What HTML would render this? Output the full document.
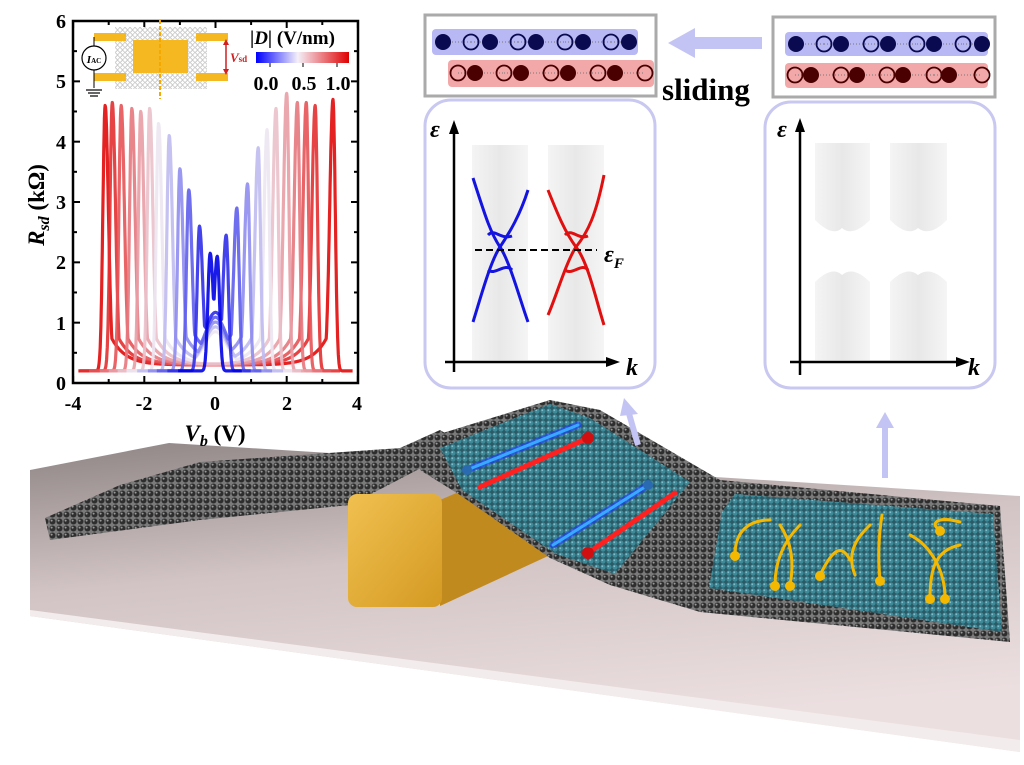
<!DOCTYPE html>
<html><head><meta charset="utf-8">
<style>
html,body{margin:0;padding:0;background:#fff;}
svg{display:block;}
.t{font-family:"Liberation Serif",serif;font-weight:bold;}
</style></head>
<body>
<svg id="s" width="1024" height="765" viewBox="0 0 1024 765" xmlns="http://www.w3.org/2000/svg">
<defs>
<linearGradient id="plane" x1="0" y1="0" x2="0.3" y2="1">
<stop offset="0" stop-color="#8f8585"/><stop offset="0.45" stop-color="#d2c4c4"/><stop offset="1" stop-color="#ecdfe0"/>
</linearGradient>
<linearGradient id="cb" x1="0" x2="1">
<stop offset="0" stop-color="#0000ff"/><stop offset="0.45" stop-color="#f4f0f8"/><stop offset="1" stop-color="#e00000"/>
</linearGradient>
<linearGradient id="gold" x1="0" y1="0" x2="1" y2="1">
<stop offset="0" stop-color="#f0c050"/><stop offset="1" stop-color="#d49a22"/>
</linearGradient>
<linearGradient id="band" x1="0" y1="0" x2="1" y2="0">
<stop offset="0" stop-color="#f4f4f4"/><stop offset="0.5" stop-color="#e8e8e8"/><stop offset="1" stop-color="#f5f5f5"/>
</linearGradient>
<pattern id="dk" width="7" height="7" patternUnits="userSpaceOnUse">
<rect width="7" height="7" fill="#7a7a7a"/><circle cx="3.5" cy="3.5" r="3" fill="#2e2e2e"/><circle cx="2.6" cy="2.6" r="1" fill="#9a9a9a"/>
</pattern>
<pattern id="tl" width="6" height="6" patternUnits="userSpaceOnUse">
<rect width="6" height="6" fill="#2b5a66"/><circle cx="3" cy="3" r="2.6" fill="#3f8a98"/><circle cx="2.3" cy="2.3" r="0.9" fill="#7fc0cc"/>
</pattern>
<pattern id="hex" width="5" height="5" patternUnits="userSpaceOnUse">
<rect width="5" height="5" fill="#fff"/><circle cx="2.5" cy="2.5" r="1.8" fill="none" stroke="#aaa" stroke-width="0.6"/>
</pattern>
</defs>

<!-- plane -->
<polygon points="30,470 169,443 1020,496 1020,752 30,616" fill="url(#plane)"/>
<polygon points="30,610 1020,740 1020,752 30,616" fill="#f3ecec"/>

<!-- left dark sheet -->
<polygon points="45,518 120,485 200,462 400,448 440,430 465,445 350,505 200,520 50,540" fill="url(#dk)"/>
<!-- gold block -->
<polygon points="440,500 622,422 626,520 440,606" fill="#c08a1e"/>
<rect x="348" y="494" width="94" height="113" rx="9" fill="url(#gold)"/>
<!-- dark sheet over block and right -->
<polygon points="420,440 550,400 600,410 720,480 1000,506 1010,642 700,612 610,585 550,558 460,495 420,470" fill="url(#dk)"/>
<polygon points="440,448 550,404 590,418 690,482 615,574 556,554 462,490" fill="url(#tl)"/>
<polygon points="722,512 735,494 993,514 1002,632 709,588" fill="url(#tl)"/>
<g stroke-linecap="round">
<line x1="467" y1="470" x2="578" y2="425" stroke="#1e3cff" stroke-width="7" opacity="0.6"/>
<line x1="467" y1="470" x2="578" y2="425" stroke="#39a8ff" stroke-width="3"/>
<line x1="480" y1="487" x2="588" y2="438" stroke="#ff2020" stroke-width="5"/>
<line x1="553" y1="545" x2="648" y2="485" stroke="#1e3cff" stroke-width="7" opacity="0.6"/>
<line x1="553" y1="545" x2="648" y2="485" stroke="#39a8ff" stroke-width="3"/>
<line x1="588" y1="553" x2="675" y2="493" stroke="#ff2020" stroke-width="5"/>
</g>
<circle cx="467" cy="470" r="5" fill="#2a6ab0"/><circle cx="588" cy="438" r="6" fill="#d01010"/>
<circle cx="648" cy="485" r="5" fill="#2a6ab0"/><circle cx="588" cy="553" r="6" fill="#d01010"/>
<g fill="none" stroke="#f5b800" stroke-width="3" stroke-linecap="round">
<path d="M735,555 C735,530 750,520 770,520"/><path d="M775,585 C775,560 785,540 800,525"/>
<path d="M790,585 C795,560 790,540 780,525"/><path d="M820,575 C830,555 840,540 850,560"/>
<path d="M855,575 C845,550 860,535 870,525"/><path d="M880,580 C878,560 878,540 882,515"/>
<path d="M930,598 C930,570 935,550 960,545"/><path d="M945,598 C945,570 930,545 910,535"/>
<path d="M940,530 C930,525 935,515 960,522"/>
</g>
<g fill="#f5b800"><circle cx="735" cy="556" r="5"/><circle cx="775" cy="586" r="5"/><circle cx="790" cy="586" r="5"/><circle cx="820" cy="576" r="5"/><circle cx="880" cy="581" r="5"/><circle cx="930" cy="599" r="5"/><circle cx="945" cy="599" r="5"/><circle cx="940" cy="531" r="5"/></g>

<g stroke="#c4c4f4" stroke-width="6" fill="#c4c4f4">
<line x1="638" y1="445" x2="628" y2="410"/><polygon points="624,398 638,414 620,416" stroke="none"/>
<line x1="885" y1="478" x2="885" y2="425"/><polygon points="885,412 894,428 876,428" stroke="none"/>
</g>

<!-- top atom boxes -->
<rect x="425" y="15" width="231" height="81" fill="none" stroke="#aaa" stroke-width="3"/>
<rect x="773" y="17" width="222" height="80" fill="none" stroke="#aaa" stroke-width="3"/>
<rect x="432" y="29" width="206" height="26" rx="4" fill="#b8b8f4"/>
<rect x="448" y="60" width="206" height="27" rx="4" fill="#f2a8a8"/>
<rect x="785" y="32" width="203" height="24" rx="4" fill="#b8b8f4"/>
<rect x="785" y="63" width="203" height="25" rx="4" fill="#f2a8a8"/>
<g id="atoms"></g>
<rect x="690" y="37" width="72" height="12" fill="#c4c4f4"/>
<polygon points="668,43 695,28 695,58" fill="#c4c4f4"/>
<text x="662" y="100" class="t" font-size="31">sliding</text>

<!-- band panels -->
<rect x="425" y="100" width="230" height="288" rx="26" fill="#fff" stroke="#c8c8f0" stroke-width="3"/>
<rect x="765" y="102" width="230" height="286" rx="26" fill="#fff" stroke="#c8c8f0" stroke-width="3"/>
<rect x="472" y="145" width="56" height="215" fill="url(#band)"/>
<rect x="548" y="145" width="56" height="215" fill="url(#band)"/>
<path d="M815,143 H870 V220 C860,230 850,235 842,228 C835,235 825,230 815,220 Z" fill="url(#band)"/>
<path d="M890,143 H947 V220 C937,230 927,235 918,228 C910,235 900,230 890,220 Z" fill="url(#band)"/>
<path d="M815,360 H870 V282 C860,272 850,268 842,275 C835,268 825,272 815,282 Z" fill="url(#band)"/>
<path d="M890,360 H947 V282 C937,272 927,268 918,275 C910,268 900,272 890,282 Z" fill="url(#band)"/>
<g fill="none" stroke-width="3">
<path d="M473,178 C485,215 490,232 500,247 C510,262 520,300 528,322" stroke="#1414e0"/>
<path d="M528,190 C520,215 510,232 500,247 C490,262 480,300 473,322" stroke="#1414e0"/>
<path d="M488,235 C495,228 500,240 512,236" stroke="#1414e0"/>
<path d="M488,270 C495,276 505,262 512,270" stroke="#1414e0"/>
<path d="M548,190 C558,215 565,232 576,247 C588,262 596,300 604,325" stroke="#e01010"/>
<path d="M604,175 C596,215 588,232 576,247 C566,262 555,300 548,315" stroke="#e01010"/>
<path d="M565,235 C572,228 578,240 588,236" stroke="#e01010"/>
<path d="M565,270 C572,276 582,262 588,270" stroke="#e01010"/>
</g>
<line x1="475" y1="250" x2="597" y2="250" stroke="#000" stroke-width="2" stroke-dasharray="7,4"/>
<g stroke="#000" stroke-width="2.5" fill="#000">
<line x1="454" y1="372" x2="454" y2="130"/><polygon points="454,120 449,134 459,134" stroke="none"/>
<line x1="445" y1="362" x2="610" y2="362"/><polygon points="620,362 606,357 606,367" stroke="none"/>
<line x1="800" y1="375" x2="800" y2="128"/><polygon points="800,118 795,132 805,132" stroke="none"/>
<line x1="790" y1="362" x2="960" y2="362"/><polygon points="970,362 956,357 956,367" stroke="none"/>
</g>
<g class="t" font-style="italic">
<text x="430" y="137" font-size="24">ε</text><text x="626" y="375" font-size="24">k</text>
<text x="604" y="262" font-size="24">ε<tspan font-size="15" dy="6">F</tspan></text>
<text x="777" y="137" font-size="24">ε</text><text x="968" y="375" font-size="24">k</text>
</g>

<!-- plot -->
<g id="curves"></g>
<rect x="73" y="21" width="285" height="362" fill="none" stroke="#000" stroke-width="2.5"/>
<g id="ticks" stroke="#000" stroke-width="2"></g>
<g class="t" font-size="20" text-anchor="middle">
<text x="73" y="410">-4</text><text x="144" y="410">-2</text><text x="215" y="410">0</text><text x="287" y="410">2</text><text x="357" y="410">4</text>
</g>
<g class="t" font-size="20" text-anchor="end">
<text x="66" y="390">0</text><text x="66" y="330">1</text><text x="66" y="269">2</text><text x="66" y="209">3</text><text x="66" y="149">4</text><text x="66" y="88">5</text><text x="66" y="28">6</text>
</g>
<text class="t" font-size="23" transform="translate(44,205) rotate(-90)" text-anchor="middle"><tspan font-style="italic">R<tspan font-size="16" dy="5">sd</tspan></tspan><tspan dy="-5"> (kΩ)</tspan></text>
<text class="t" font-size="23" x="215" y="441" text-anchor="middle"><tspan font-style="italic">V<tspan font-size="16" dy="5">b</tspan></tspan><tspan dy="-5"> (V)</tspan></text>

<!-- inset -->
<rect x="115" y="27" width="92" height="62" fill="url(#hex)"/>
<rect x="94" y="33" width="32" height="8" fill="#f5b820"/><rect x="94" y="73" width="32" height="8" fill="#f5b820"/>
<rect x="196" y="33" width="32" height="8" fill="#f5b820"/><rect x="196" y="73" width="32" height="8" fill="#f5b820"/>
<rect x="133" y="40" width="55" height="33" fill="#f5b820"/>
<line x1="160" y1="20" x2="160" y2="99" stroke="#f5a800" stroke-width="2" stroke-dasharray="4,2"/>
<line x1="94" y1="37" x2="94" y2="88" stroke="#000" stroke-width="1"/>
<circle cx="94" cy="58" r="12" fill="#fff" stroke="#000" stroke-width="1.2"/>
<text x="94" y="63" class="t" font-size="11" text-anchor="middle" font-style="italic">I<tspan font-size="7" font-style="normal">AC</tspan></text>
<g stroke="#000" stroke-width="1.2"><line x1="86" y1="90" x2="102" y2="90"/><line x1="88" y1="93" x2="100" y2="93"/><line x1="90" y1="96" x2="98" y2="96"/></g>
<line x1="226" y1="41" x2="226" y2="73" stroke="#d02020" stroke-width="1.5"/>
<polygon points="226,39 223,45 229,45" fill="#d02020"/><polygon points="226,75 223,69 229,69" fill="#d02020"/>
<text x="230" y="62" class="t" font-size="13" fill="#d02020" font-style="italic">V<tspan font-size="9" font-style="normal">sd</tspan></text>
<text x="250" y="44" class="t" font-size="19">|<tspan font-style="italic">D</tspan>| (V/nm)</text>
<rect x="256" y="52" width="93" height="11" fill="url(#cb)"/>
<g stroke="#000" stroke-width="1"><line x1="270" y1="63" x2="270" y2="67"/><line x1="303" y1="63" x2="303" y2="67"/><line x1="337" y1="63" x2="337" y2="67"/></g>
<g class="t" font-size="20" text-anchor="middle"><text x="266" y="90">0.0</text><text x="304" y="90">0.5</text><text x="338" y="90">1.0</text></g>
</svg>
<script>
var NS="http://www.w3.org/2000/svg";
function el(n,a,p){var e=document.createElementNS(NS,n);for(var k in a)e.setAttribute(k,a[k]);p.appendChild(e);return e;}
var tk=document.getElementById("ticks");
for(var i=0;i<=6;i++){var y=383-i*60.33;el("line",{x1:73,y1:y,x2:80,y2:y},tk);el("line",{x1:358,y1:y,x2:351,y2:y},tk);
 if(i<6){var y2=y-30.2;el("line",{x1:73,y1:y2,x2:77,y2:y2},tk);el("line",{x1:358,y1:y2,x2:354,y2:y2},tk);}}
for(var v=-4;v<=4;v++){var x=215.5+v*35.6;var L=(v%2==0)?7:4;el("line",{x1:x,y1:383,x2:x,y2:383-L},tk);el("line",{x1:x,y1:21,x2:x,y2:21+L},tk);}
var Ls=[-0.15,-0.45,-0.75,-1.0,-1.3,-1.6,-1.85,-2.1,-2.35,-2.65,-2.9,-3.1];
var Lh=[2.15,2.6,3.2,3.55,4.1,4.3,4.55,4.5,4.55,4.6,4.65,4.6];
var Rs=[0.05,0.3,0.6,0.9,1.2,1.45,1.7,2.0,2.3,2.55,2.8,3.3];
var Rh=[2.1,2.45,2.9,3.3,3.9,4.2,4.55,4.8,4.65,4.65,4.6,4.7];
function col(t){var c1=[0,0,230],c2=[236,232,244],c3=[225,10,10];var a,b,u;
 if(t<0.45){a=c1;b=c2;u=t/0.45;}else{a=c2;b=c3;u=(t-0.45)/0.55;}
 return "rgb("+[0,1,2].map(function(i){return Math.round(a[i]+(b[i]-a[i])*u)}).join(",")+")";}
function pk(V,p,h,outerLeft){var d=V-p;var s=((d<0)==outerLeft)?0.09:0.13;return 0.2+(h-0.2)*Math.exp(-Math.pow(d/s,2));}
var cg=document.getElementById("curves");
for(var k=11;k>=0;k--){var t=k/11;var d="";
 var lo=Ls[k]-0.9,hi=Rs[k]+0.7; if(lo<-3.85)lo=-3.85; if(hi>3.85)hi=3.85;
 for(var V=lo;V<=hi;V+=0.01){
  var a=pk(V,Ls[k],Lh[k],true), b=pk(V,Rs[k],Rh[k],false);
  var m=0.2;
  if(V>Ls[k]&&V<Rs[k]){m=0.3+0.7*Math.exp(-(V-Ls[k])/0.4)+0.7*Math.exp(-(Rs[k]-V)/0.4);
    if(k<6) m=Math.max(m,0.3+(0.95-0.08*k)*Math.exp(-Math.pow(V/0.45,2)));}
  var r=Math.max(a,b,m);
  var x=215.5+V*35.6,y=383-r*60.33;d+=(d?"L":"M")+x.toFixed(1)+","+y.toFixed(1);
 }
 el("path",{d:d,fill:"none",stroke:col(t),"stroke-width":3.2,"stroke-linejoin":"round",opacity:0.9},cg);
}
var ag=document.getElementById("atoms");
function row(y,F,O,fc){
 var allx=F.concat(O).sort(function(a,b){return a-b});
 for(var i=0;i<allx.length-1;i++)el("line",{x1:allx[i],y1:y,x2:allx[i+1],y2:y,stroke:"#777","stroke-width":1,"stroke-dasharray":"1,2"},ag);
 O.forEach(function(x){el("circle",{cx:x,cy:y,r:7.5,fill:"none",stroke:fc,"stroke-width":1.8},ag);});
 F.forEach(function(x){el("circle",{cx:x,cy:y,r:8,fill:fc},ag);});}
row(42,[443,490,536,583,629],[471,518,565,611],"#0a0a50");
row(73,[475,521,568,615],[458,504,551,598,645],"#4a0000");
row(44,[796,841,888,934,982],[824,871,917,963],"#0a0a50");
row(75,[811,857,903,949],[795,841,887,934,982],"#4a0000");
</script>
</body></html>
